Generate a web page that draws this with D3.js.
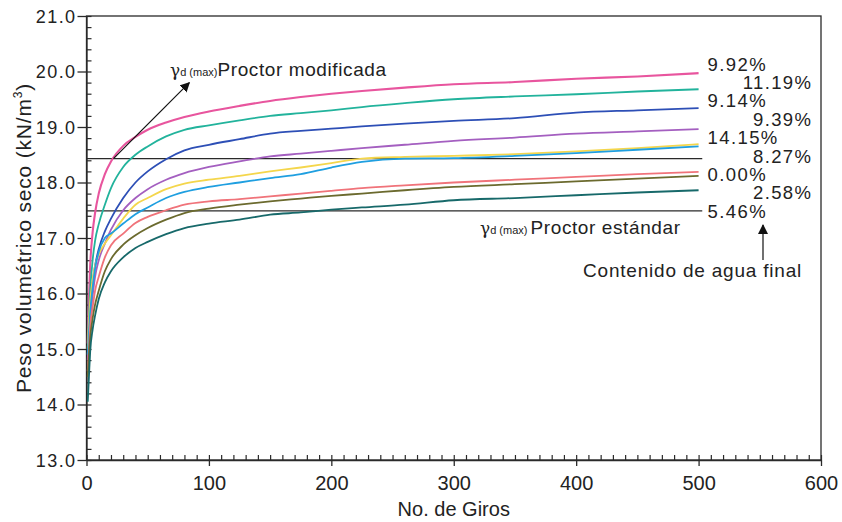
<!DOCTYPE html>
<html>
<head>
<meta charset="utf-8">
<script src="https://cdn.jsdelivr.net/npm/d3@7"></script>
<style>
  html, body { margin: 0; padding: 0; background: #fff; }
  svg { display: block; font-family: "Liberation Sans", Arial, Helvetica, sans-serif; }
</style>
</head>
<body>
<svg id="chart" width="842" height="522"></svg>
<script>
// Number of gyrations at which every curve is sampled
const giros = [1, 2, 3, 5, 7, 10, 15, 20, 30, 40, 50, 65, 80, 100, 125, 150, 175, 200, 225, 260, 300, 350, 400, 450, 500];

// Dry unit weight (kN/m3) per specimen, labelled by final water content
const w992  = [15.1, 15.9, 16.5, 17.1, 17.45, 17.8, 18.15, 18.38, 18.66, 18.82, 18.95, 19.08, 19.18, 19.28, 19.38, 19.47, 19.54, 19.6, 19.65, 19.71, 19.77, 19.81, 19.87, 19.91, 19.97];
const w1119 = [15.0, 15.6, 16.05, 16.6, 16.95, 17.25, 17.6, 17.9, 18.28, 18.5, 18.65, 18.83, 18.95, 19.03, 19.12, 19.2, 19.25, 19.3, 19.36, 19.43, 19.5, 19.55, 19.59, 19.64, 19.68];
const w914  = [14.9, 15.3, 15.7, 16.2, 16.5, 16.8, 17.12, 17.35, 17.72, 18.0, 18.2, 18.42, 18.58, 18.68, 18.78, 18.88, 18.93, 18.97, 19.01, 19.06, 19.11, 19.16, 19.26, 19.3, 19.34];
const w939  = [14.8, 15.2, 15.5, 15.95, 16.3, 16.6, 16.9, 17.15, 17.5, 17.72, 17.88, 18.05, 18.17, 18.28, 18.38, 18.47, 18.52, 18.57, 18.62, 18.68, 18.75, 18.81, 18.88, 18.92, 18.96];
const w1415 = [15.0, 15.5, 15.85, 16.25, 16.5, 16.7, 16.9, 17.05, 17.35, 17.6, 17.72, 17.88, 17.98, 18.05, 18.12, 18.2, 18.27, 18.35, 18.43, 18.46, 18.48, 18.51, 18.56, 18.62, 18.69];
const w827  = [14.9, 15.3, 15.65, 16.1, 16.45, 16.75, 17.0, 17.08, 17.26, 17.43, 17.55, 17.72, 17.83, 17.92, 18.0, 18.08, 18.15, 18.27, 18.37, 18.43, 18.44, 18.48, 18.53, 18.59, 18.65];
const w000  = [14.6, 15.0, 15.4, 15.75, 16.05, 16.3, 16.65, 16.87, 17.08, 17.27, 17.38, 17.5, 17.6, 17.66, 17.7, 17.75, 17.8, 17.85, 17.9, 17.95, 18.0, 18.05, 18.1, 18.15, 18.19];
const w258  = [14.5, 14.9, 15.2, 15.55, 15.8, 16.05, 16.4, 16.62, 16.88, 17.05, 17.18, 17.33, 17.45, 17.53, 17.6, 17.66, 17.71, 17.76, 17.8, 17.86, 17.92, 17.97, 18.02, 18.07, 18.12];
const w546  = [14.05, 14.5, 14.95, 15.35, 15.6, 15.9, 16.2, 16.4, 16.65, 16.82, 16.93, 17.07, 17.18, 17.26, 17.33, 17.42, 17.46, 17.51, 17.55, 17.6, 17.68, 17.72, 17.77, 17.82, 17.86];

const seriesLabels = ["9.92%", "11.19%", "9.14%", "9.39%", "14.15%", "8.27%", "0.00%", "2.58%", "5.46%"];
const seriesValues = [w992, w1119, w914, w939, w1415, w827, w000, w258, w546];
const seriesColors = ["#e8559e", "#22b39c", "#2d4fb6", "#a45fc0", "#f4d64c", "#1f9fe0", "#f0737a", "#6b6a2e", "#17696a"];

// Maximum dry unit weights from Proctor tests (kN/m3)
const proctorModificada = 18.43;
const proctorEstandar = 17.49;
const proctorLineEnd = 503;

const xTicks = [0, 100, 200, 300, 400, 500, 600];
const yTicks = [13, 14, 15, 16, 17, 18, 19, 20, 21];

const svg = d3.select("#chart");
const plotLeft = 86.5, plotRight = 821, plotTop = 16, plotBottom = 460;

const x = d3.scaleLinear().domain([0, 600]).range([plotLeft, plotRight]);
const y = d3.scaleLinear().domain([13, 21]).range([plotBottom, plotTop]);

const ink = "#2a2a2a";

// arrow head
svg.append("defs").append("marker")
  .attr("id", "arrow").attr("viewBox", "0 0 10 10")
  .attr("refX", 9).attr("refY", 5)
  .attr("markerWidth", 10).attr("markerHeight", 10)
  .attr("markerUnits", "userSpaceOnUse")
  .attr("orient", "auto")
  .append("path").attr("d", "M0,0 L10,5 L0,10 z").attr("fill", "#111");

// plot frame
svg.append("rect")
  .attr("x", plotLeft).attr("y", plotTop)
  .attr("width", plotRight - plotLeft).attr("height", plotBottom - plotTop)
  .attr("fill", "none").attr("stroke", ink).attr("stroke-width", 1.3);

// minor ticks, pointing inward
svg.append("g").attr("transform", `translate(0,${plotBottom})`)
  .call(d3.axisBottom(x).tickValues(d3.range(0, 601, 10)).tickSize(-5).tickFormat(""))
  .call(g => g.select(".domain").remove())
  .call(g => g.selectAll("line").attr("stroke", ink).attr("stroke-width", 1.2));
svg.append("g").attr("transform", `translate(${plotLeft},0)`)
  .call(d3.axisLeft(y).tickValues(d3.range(0, 41).map(i => 13 + i * 0.2)).tickSize(-5).tickFormat(""))
  .call(g => g.select(".domain").remove())
  .call(g => g.selectAll("line").attr("stroke", ink).attr("stroke-width", 1.2));

// major ticks and labels
svg.append("g").attr("transform", `translate(0,${plotBottom})`)
  .call(d3.axisBottom(x).tickValues(xTicks).tickSize(6).tickSizeOuter(0).tickPadding(10).tickFormat(d3.format("d")))
  .call(g => g.select(".domain").attr("stroke", ink).attr("stroke-width", 1.3))
  .call(g => g.selectAll("line").attr("stroke", ink).attr("stroke-width", 1.3))
  .call(g => g.selectAll("text").attr("font-size", 20).attr("fill", "#222")
    .attr("font-family", "Liberation Sans, Arial, sans-serif"));

svg.append("g").attr("transform", `translate(${plotLeft},0)`)
  .call(d3.axisLeft(y).tickValues(yTicks).tickSize(9).tickSizeOuter(0).tickPadding(1).tickFormat(d3.format(".1f")))
  .call(g => g.select(".domain").attr("stroke", ink).attr("stroke-width", 1.3))
  .call(g => g.selectAll("line").attr("stroke", ink).attr("stroke-width", 1.3))
  .call(g => g.selectAll("text").attr("font-size", 18).attr("fill", "#222")
    .attr("letter-spacing", 1.4).attr("dy", "0.36em")
    .attr("font-family", "Liberation Sans, Arial, sans-serif"));

// axis titles
svg.append("text")
  .attr("x", (plotLeft + plotRight) / 2).attr("y", 516)
  .attr("text-anchor", "middle").attr("font-size", 20).attr("fill", "#222")
  .text("No. de Giros");

const yTitle = svg.append("text")
  .attr("transform", `translate(31,${(plotTop + plotBottom) / 2}) rotate(-90)`)
  .attr("text-anchor", "middle").attr("font-size", 21).attr("letter-spacing", 0.8).attr("fill", "#222");
yTitle.append("tspan").text("Peso volumétrico seco (kN/m");
yTitle.append("tspan").attr("font-size", 12).attr("dy", -9).text("3");
yTitle.append("tspan").attr("dy", 9).text(")");

// Proctor reference lines
[proctorModificada, proctorEstandar].forEach(v => {
  svg.append("line")
    .attr("x1", x(0)).attr("x2", x(proctorLineEnd))
    .attr("y1", y(v)).attr("y2", y(v))
    .attr("stroke", ink).attr("stroke-width", 1.3);
});

// compaction curves
const line = d3.line()
  .x(d => x(d[0]))
  .y(d => y(d[1]))
  .curve(d3.curveMonotoneX);

seriesValues.forEach((vals, i) => {
  svg.append("path")
    .datum(giros.map((g, k) => [g, vals[k]]))
    .attr("fill", "none")
    .attr("stroke", seriesColors[i])
    .attr("stroke-width", i === 0 ? 2.1 : 1.8)
    .attr("stroke-linejoin", "round")
    .attr("d", line);
});

// final water content labels, stacked upward from the standard Proctor line
const labelStep = 18.4;
seriesLabels.forEach((lab, i) => {
  const onRight = i % 2 === 1;
  svg.append("text")
    .attr("x", onRight ? x(593) : x(500) + 9)
    .attr("y", y(proctorEstandar) + 7 - (seriesLabels.length - 1 - i) * labelStep)
    .attr("text-anchor", onRight ? "end" : "start")
    .attr("font-size", 18.5).attr("letter-spacing", 1.4).attr("fill", "#222")
    .text(lab);
});

// annotation: modified Proctor
svg.append("line")
  .attr("x1", x(22)).attr("y1", y(proctorModificada))
  .attr("x2", x(84)).attr("y2", y(19.8))
  .attr("stroke", "#111").attr("stroke-width", 1.2)
  .attr("marker-end", "url(#arrow)");

const modLabel = svg.append("text").attr("x", 170).attr("y", 76).attr("fill", "#222");
modLabel.append("tspan").attr("font-size", 17).attr("font-family", "DejaVu Serif, serif").text("γ");
modLabel.append("tspan").attr("font-size", 11).text("d (max)");
modLabel.append("tspan").attr("font-size", 19).attr("letter-spacing", 0.6).text("Proctor modificada");

// annotation: standard Proctor
const stdLabel = svg.append("text").attr("x", 480).attr("y", 234).attr("fill", "#222");
stdLabel.append("tspan").attr("font-size", 17).attr("font-family", "DejaVu Serif, serif").text("γ");
stdLabel.append("tspan").attr("font-size", 11).text("d (max) ");
stdLabel.append("tspan").attr("font-size", 19).attr("letter-spacing", 0.6).text("Proctor estándar");

// annotation: final water content
svg.append("line")
  .attr("x1", 763).attr("y1", 260)
  .attr("x2", 763).attr("y2", 225)
  .attr("stroke", "#111").attr("stroke-width", 1.2)
  .attr("marker-end", "url(#arrow)");

svg.append("text")
  .attr("x", 583).attr("y", 277)
  .attr("font-size", 19).attr("letter-spacing", 0.8).attr("fill", "#222")
  .text("Contenido de agua final");
</script>
</body>
</html>
